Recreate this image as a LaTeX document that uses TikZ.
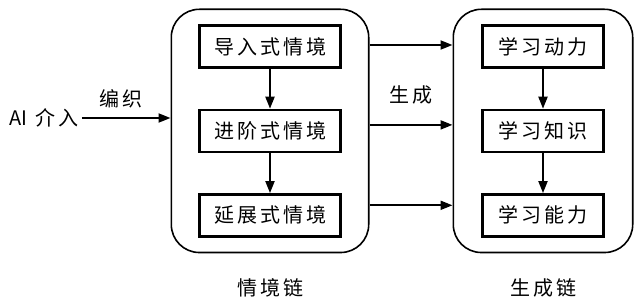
\documentclass[tikz,border=0pt]{standalone}
\usepackage{fontspec}
\newfontfamily\cjk[LetterSpace=15]{Noto Sans CJK SC}
\newfontfamily\cjktight{Noto Sans CJK SC}
\usepackage{tikz}
\usetikzlibrary{positioning, fit, arrows.meta, calc}
\tikzset{
  stage/.style = {draw, rectangle, line width=2.4pt,
                  minimum height=42pt, inner sep=2pt,
                  font=\cjk\fontsize{20pt}{22pt}\selectfont},
  chain/.style = {draw, rectangle, rounded corners=28pt,
                  line width=1.6pt, inner xsep=27pt, inner ysep=15pt},
  txt/.style   = {font=\cjk\fontsize{20pt}{22pt}\selectfont},
  arr/.style   = {-{Triangle[length=12pt,width=9pt]}, line width=2pt},
}
\begin{document}
\begin{tikzpicture}[x=1pt, y=1pt]
    \useasboundingbox (0,0) rectangle (637,298);

    % situation chain
    \node[stage, minimum width=141pt] (lead) at (270,251.5) {导入式情境};
    \node[stage, minimum width=141pt, below=40pt of lead] (adv) {进阶式情境};
    \node[stage, minimum width=141pt, below=40pt of adv] (ext) {延展式情境};
    \node[chain, fit=(lead)(ext)] (sitchain) {};
    \node[txt, below=22pt of sitchain] (sitlabel) {情境链};

    % generation chain
    \node[stage, minimum width=121pt] (motive) at (543,251.5) {学习动力};
    \node[stage, minimum width=121pt, below=40pt of motive] (know) {学习知识};
    \node[stage, minimum width=121pt, below=40pt of know] (ability) {学习能力};
    \node[chain, fit=(motive)(ability), inner xsep=28pt] (genchain) {};
    \node[txt, below=22pt of genchain] (genlabel) {生成链};

    \node[txt] (ai) at (44,180) {{\cjktight AI} 介入};

    \draw[arr] (lead) -- (adv);
    \draw[arr] (adv) -- (ext);
    \draw[arr] (motive) -- (know);
    \draw[arr] (know) -- (ability);

    \draw[arr] (ai.east) -- (ai.east -| sitchain.west)
    node[midway, above=6pt, xshift=-5pt, txt] (weave) {编织};

    \draw[arr] ([yshift=1.5pt]lead.east -| sitchain.east)
        -- ([yshift=1.5pt]lead.east -| genchain.west);
    \draw[arr] ([yshift=6pt]adv.east -| sitchain.east)
        -- ([yshift=6pt]adv.east -| genchain.west)
    node[midway, above=16pt, txt] (gen) {生成};
    \draw[arr] ([yshift=10pt]ext.east -| sitchain.east)
        -- ([yshift=10pt]ext.east -| genchain.west);

\end{tikzpicture}
\end{document}
